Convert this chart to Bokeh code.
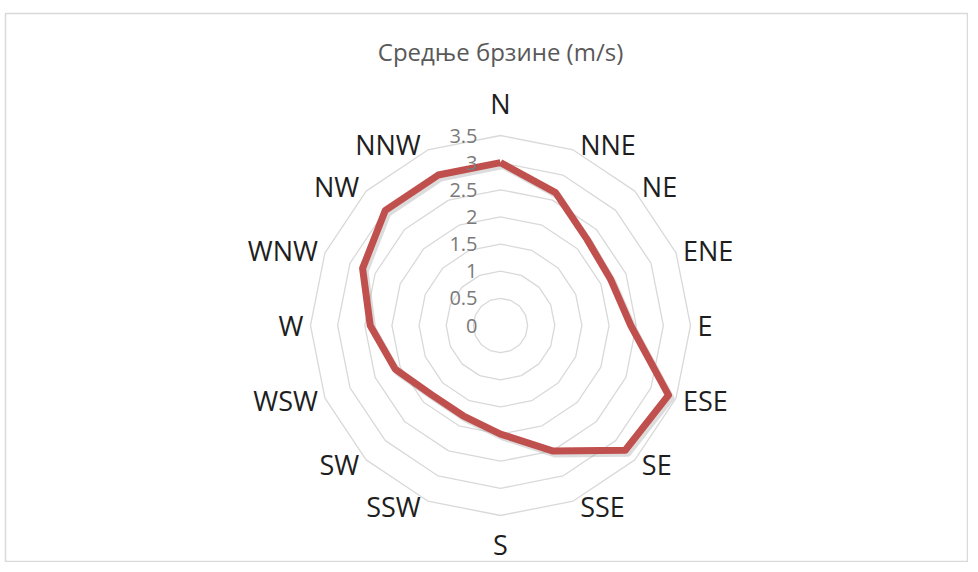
import math
from bokeh.plotting import figure
from bokeh.models import Range1d, ColumnDataSource
from bokeh.core.properties import value
from bokeh.embed import file_html
from bokeh.resources import INLINE

# ---------------- data ----------------
title_text = "Средње брзине (m/s)"
directions = ["N", "NNE", "NE", "ENE", "E", "ESE", "SE", "SSE",
              "S", "SSW", "SW", "WSW", "W", "WNW", "NW", "NNW"]
speeds = [3.0, 2.65, 2.25, 2.2, 2.4, 3.35, 3.25, 2.5,
          2.0, 1.8, 1.8, 2.1, 2.4, 2.75, 3.0, 3.0]
ring_values = [0, 0.5, 1, 1.5, 2, 2.5, 3, 3.5]
ring_labels = ["0", "0.5", "1", "1.5", "2", "2.5", "3", "3.5"]

# ---------------- layout ----------------
W, H = 968, 562
BT, BL = 13, 5              # borders above / left of the frame
FW, FH = W - BL, H - BT     # frame size in px
CX, CY = 495, 312           # chart centre inside the frame (px from left / top)
RMAX_PX = 190               # radius of the outer ring in px
rmax = max(ring_values)
S = RMAX_PX / rmax          # px per unit

FONT = "Open Sans"

p = figure(width=W, height=H,
           x_range=Range1d(-CX / S, (FW - CX) / S),
           y_range=Range1d(-(FH - CY) / S, CY / S),
           x_axis_type=None, y_axis_type=None,
           output_backend="svg", toolbar_location=None,
           min_border_left=BL, min_border_right=0,
           min_border_top=BT, min_border_bottom=0)
p.grid.visible = False
p.outline_line_color = "#d9d9d9"
p.outline_line_width = 1.5
p.background_fill_color = "white"
p.border_fill_color = "white"

n = len(directions)
angles = [2 * math.pi * i / n for i in range(n)]

# rings
xs, ys = [], []
for v in ring_values[1:]:
    xs.append([v * math.sin(a) for a in angles] + [v * math.sin(angles[0])])
    ys.append([v * math.cos(a) for a in angles] + [v * math.cos(angles[0])])
p.multi_line(xs, ys, line_color="#d9d9d9", line_width=1.3)

# data polygon
dx = [r * math.sin(a) for r, a in zip(speeds, angles)]
dy = [r * math.cos(a) for r, a in zip(speeds, angles)]
dx.append(dx[0]); dy.append(dy[0])
# soft shadow
p.line([x + 2.5 / S for x in dx], [y - 3 / S for y in dy],
       line_color="#9a9a9a", line_alpha=0.35, line_width=7, line_join="round")
p.line(dx, dy, line_color="#C0504D", line_width=7, line_join="round")

# value labels along the north axis
p.text(x=[0] * len(ring_values), y=ring_values, text=ring_labels,
       x_offset=-23, text_align="right", text_baseline="middle",
       text_font=value(FONT), text_font_size="20px", text_color="#7a7a7a")

# direction labels
groups = {"left": [], "right": [], "center": []}
for lab, a in zip(directions, angles):
    sx, cy = math.sin(a), math.cos(a)
    if sx > 0.01:
        groups["left"].append((lab, rmax * sx, rmax * cy, 7, -6 * cy))
    elif sx < -0.01:
        groups["right"].append((lab, rmax * sx, rmax * cy, -7, -6 * cy))
    else:
        groups["center"].append((lab, rmax * sx, rmax * cy, 0, -32 if cy > 0 else 29))
for align, items in groups.items():
    src = ColumnDataSource(dict(text=[t[0] for t in items], x=[t[1] for t in items],
                                y=[t[2] for t in items], xo=[t[3] for t in items],
                                yo=[t[4] for t in items]))
    p.text(x="x", y="y", text="text", x_offset="xo", y_offset="yo", source=src,
           text_align=align, text_baseline="middle",
           text_font=value(FONT), text_font_size="27px", text_color="#1e1e1e")

# title
p.text(x=[0], y=[CY / S - 38 / S], text=[title_text], text_align="center",
       text_baseline="middle", text_font=value(FONT), text_font_size="24px",
       text_color="#595959")

open("out.html", "w").write(file_html(p, INLINE))
